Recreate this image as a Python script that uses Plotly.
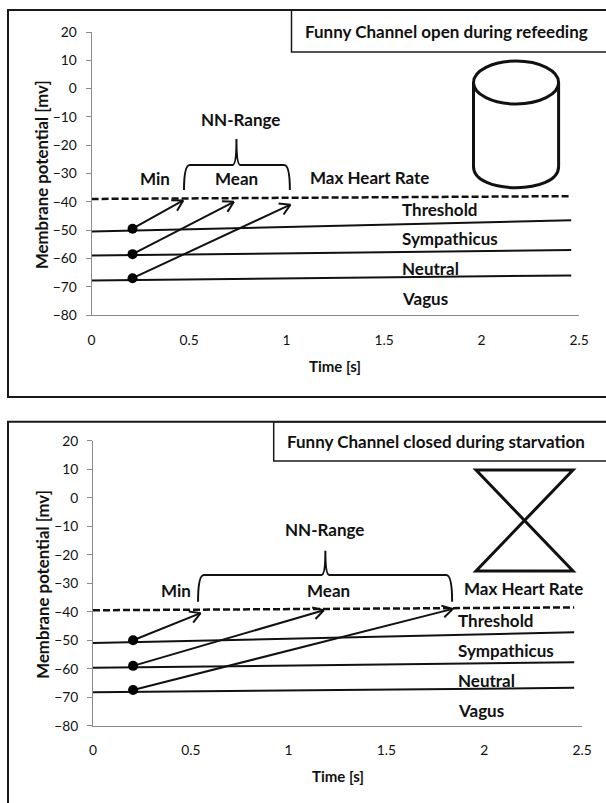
import math
import plotly.graph_objects as go

W, H = 606, 803

# Panel 1 values
p1_time_ends = [0.0, 2.46]
p1_threshold = [-39.0, -38.0]
p1_sympathicus = [-50.5, -46.5]
p1_neutral = [-59.0, -57.0]
p1_vagus = [-67.8, -66.0]
p1_dot_time = [0.21, 0.21, 0.21]
p1_dot_mv = [-49.5, -58.5, -67.0]
p1_arrow_time = [0.47, 0.73, 1.02]
p1_arrow_mv = [-39.5, -40.0, -41.0]
p1_brace = [0.474, 0.743, 1.017]
p1_labels = ["Min", "NN-Range", "Mean", "Max Heart Rate", "Threshold", "Sympathicus", "Neutral", "Vagus"]
p1_label_time = [0.323, 0.762, 0.743, 1.427, 1.786, 1.84, 1.74, 1.71]
p1_label_mv = [-31.6, -10.8, -31.6, -31.4, -42.6, -53.0, -63.5, -74.0]
p1_title = "Funny Channel open during refeeding"

# Panel 2 values
p2_time_ends = [0.0, 2.46]
p2_threshold = [-39.5, -38.5]
p2_sympathicus = [-51.0, -47.2]
p2_neutral = [-59.7, -57.7]
p2_vagus = [-68.3, -66.7]
p2_dot_time = [0.205, 0.205, 0.205]
p2_dot_mv = [-50.0, -59.0, -67.5]
p2_arrow_time = [0.55, 1.18, 1.84]
p2_arrow_mv = [-40.5, -39.5, -39.0]
p2_brace = [0.537, 1.188, 1.836]
p2_labels = p1_labels
p2_label_time = [0.424, 1.185, 1.204, 2.2, 2.06, 2.11, 2.01, 1.985]
p2_label_mv = [-32.5, -11.0, -32.5, -32.0, -43.2, -53.7, -64.0, -74.5]
p2_title = "Funny Channel closed during starvation"

x_ticks = [0, 0.5, 1, 1.5, 2, 2.5]
x_tick_labels = ["0", "0.5", "1", "1.5", "2", "2.5"]
y_ticks = [20, 10, 0, -10, -20, -30, -40, -50, -60, -70, -80]
x_title = "Time [s]"
y_title = "Membrane potential [mv]"

FONT = "Lato"
INK = "#111111"


def px(x):
    return x / W


def py(y):
    return 1 - y / H


panels = [
    dict(xa="x", ya="y", xname="xaxis", yname="yaxis", l=91.6, r=579, t=32, b=315,
         ends=p1_time_ends, thr=p1_threshold, lines=[p1_sympathicus, p1_neutral, p1_vagus],
         dt=p1_dot_time, dm=p1_dot_mv, at=p1_arrow_time, am=p1_arrow_mv, brace=p1_brace,
         labels=p1_labels, lt=p1_label_time, lm=p1_label_mv, title=p1_title, title_x=446.5,
         brace_mv=(-35.8, -27.0, -17.8), frame=(8, 10, 397), box=(291.5, 52),
         xtitle_y=366, ytitle_x=41),
    dict(xa="x2", ya="y2", xname="xaxis2", yname="yaxis2", l=93, r=582, t=440.7, b=725.7,
         ends=p2_time_ends, thr=p2_threshold, lines=[p2_sympathicus, p2_neutral, p2_vagus],
         dt=p2_dot_time, dm=p2_dot_mv, at=p2_arrow_time, am=p2_arrow_mv, brace=p2_brace,
         labels=p2_labels, lt=p2_label_time, lm=p2_label_mv, title=p2_title, title_x=436,
         brace_mv=(-36.5, -27.1, -18.6), frame=(8, 421.7, 830), box=(273.7, 461),
         xtitle_y=776, ytitle_x=43),
]

fig = go.Figure()
shapes, annotations = [], []
layout = {}

for p in panels:
    sx = (p["r"] - p["l"]) / 2.5
    sy = (p["b"] - p["t"]) / 100.0
    common = dict(xaxis=p["xa"], yaxis=p["ya"], showlegend=False, hoverinfo="skip", cliponaxis=False)
    line = dict(color=INK, width=2)
    fig.add_trace(go.Scatter(x=p["ends"], y=p["thr"], mode="lines",
                             line=dict(color=INK, width=2.5, dash="7px,3px"), **common))
    for vals in p["lines"]:
        fig.add_trace(go.Scatter(x=p["ends"], y=vals, mode="lines", line=line, **common))
    # Arrows: shaft plus an open head worked out in pixel space
    for t0, m0, t1, m1 in zip(p["dt"], p["dm"], p["at"], p["am"]):
        ang = math.atan2((m1 - m0) * sy, (t1 - t0) * sx)
        ax, ay = [t0, t1], [m0, m1]
        for off in (math.radians(150), math.radians(-150)):
            hx = t1 + 12 * math.cos(ang + off) / sx
            hy = m1 + 12 * math.sin(ang + off) / sy
            ax += [None, t1, hx]
            ay += [None, m1, hy]
        fig.add_trace(go.Scatter(x=ax, y=ay, mode="lines", line=line, **common))
    fig.add_trace(go.Scatter(x=p["dt"], y=p["dm"], mode="markers",
                             marker=dict(color="black", size=10), **common))

    # Brace
    bl, bm, br = p["brace"]
    y0, y1, y2 = p["brace_mv"]
    d, e = 0.03, 0.02
    path = (f"M {bl},{y0} Q {bl},{y1} {bl + d},{y1} L {bm - e},{y1} Q {bm},{y1} {bm},{y2} "
            f"Q {bm},{y1} {bm + e},{y1} L {br - d},{y1} Q {br},{y1} {br},{y0}")
    shapes.append(dict(type="path", path=path, xref=p["xa"], yref=p["ya"],
                       line=dict(color=INK, width=2)))

    # Frame and title box
    fl, ft, fb = p["frame"]
    shapes.append(dict(type="rect", xref="paper", yref="paper", x0=px(fl), x1=px(W + 10),
                       y0=py(fb), y1=py(ft), line=dict(color="#1a1a1a", width=2)))
    bl2, bb = p["box"]
    shapes.append(dict(type="rect", xref="paper", yref="paper", x0=px(bl2), x1=px(W + 10),
                       y0=py(bb), y1=py(ft), line=dict(color="#1a1a1a", width=1.5)))
    annotations.append(dict(text=p["title"], xref="paper", yref="paper", xanchor="center", yanchor="middle",
                            x=px(p["title_x"]), y=py((ft + bb) / 2), showarrow=False,
                            font=dict(family=FONT, size=17, color=INK, weight="bold")))
    for txt, t, m in zip(p["labels"], p["lt"], p["lm"]):
        annotations.append(dict(text=txt, x=t, y=m, xref=p["xa"], yref=p["ya"], showarrow=False,
                                xanchor="center", yanchor="middle",
                                font=dict(family=FONT, size=17, color=INK, weight="bold")))
    annotations.append(dict(text=x_title, xref="paper", yref="paper", xanchor="center", yanchor="middle",
                            x=px((p["l"] + p["r"]) / 2 - 0), y=py(p["xtitle_y"]), showarrow=False,
                            font=dict(family=FONT, size=15, color=INK, weight="bold")))
    annotations.append(dict(text=y_title, xref="paper", yref="paper", textangle=-90,
                            xanchor="center", yanchor="middle",
                            x=px(p["ytitle_x"]), y=py((p["t"] + p["b"]) / 2 + 1.5), showarrow=False,
                            font=dict(family=FONT, size=16.8, color=INK, weight="bold")))

    layout[p["xname"]] = dict(domain=[px(p["l"]), px(p["r"])], range=[0, 2.5], anchor=p["ya"],
                              tickvals=x_ticks, ticktext=x_tick_labels, showgrid=False, zeroline=False,
                              showline=True, linecolor="#8a8a8a", linewidth=1, ticks="",
                              ticklabelstandoff=12,
                              tickfont=dict(family=FONT, size=13.8, color=INK))
    layout[p["yname"]] = dict(domain=[py(p["b"]), py(p["t"])], range=[-80, 20], anchor=p["xa"],
                              tickvals=y_ticks, showgrid=False, zeroline=False,
                              showline=True, linecolor="#8a8a8a", linewidth=1, ticks="outside",
                              ticklen=5, tickcolor="#8a8a8a",
                              ticklabelstandoff=6, tickformat="d",
                              tickfont=dict(family=FONT, size=13.8, color=INK))

# Cylinder (panel 1, drawn in page coordinates)
cyl_l, cyl_r, cyl_t, cyl_m, cyl_e = 473.5, 558.6, 61, 104, 187.7
mid_y = (cyl_t + cyl_m) / 2
shapes.append(dict(type="circle", xref="paper", yref="paper", x0=px(cyl_l), x1=px(cyl_r),
                   y0=py(cyl_m), y1=py(cyl_t), line=dict(color=INK, width=3)))
cyl_path = (f"M {px(cyl_l)},{py(mid_y)} L {px(cyl_l)},{py(cyl_e - 21)} "
            f"C {px(cyl_l)},{py(cyl_e + 7)} {px(cyl_r)},{py(cyl_e + 7)} {px(cyl_r)},{py(cyl_e - 21)} "
            f"L {px(cyl_r)},{py(mid_y)}")
shapes.append(dict(type="path", path=cyl_path, xref="paper", yref="paper", line=dict(color=INK, width=3)))

# Hourglass (panel 2)
hg_l, hg_r, hg_t, hg_b = 476, 573, 470, 571
hg_path = (f"M {px(hg_l)},{py(hg_t)} L {px(hg_r)},{py(hg_t)} L {px(hg_l)},{py(hg_b)} "
           f"L {px(hg_r)},{py(hg_b)} Z")
shapes.append(dict(type="path", path=hg_path, xref="paper", yref="paper", line=dict(color=INK, width=3)))

fig.update_layout(width=W, height=H, margin=dict(l=0, r=0, t=0, b=0, autoexpand=False), autosize=False,
                  paper_bgcolor="white", plot_bgcolor="white", shapes=shapes,
                  annotations=annotations, showlegend=False, **layout)

fig.write_html("out.html", config=dict(displayModeBar=False),
               post_script="document.body.style.margin='0';document.body.style.overflow='hidden';")
